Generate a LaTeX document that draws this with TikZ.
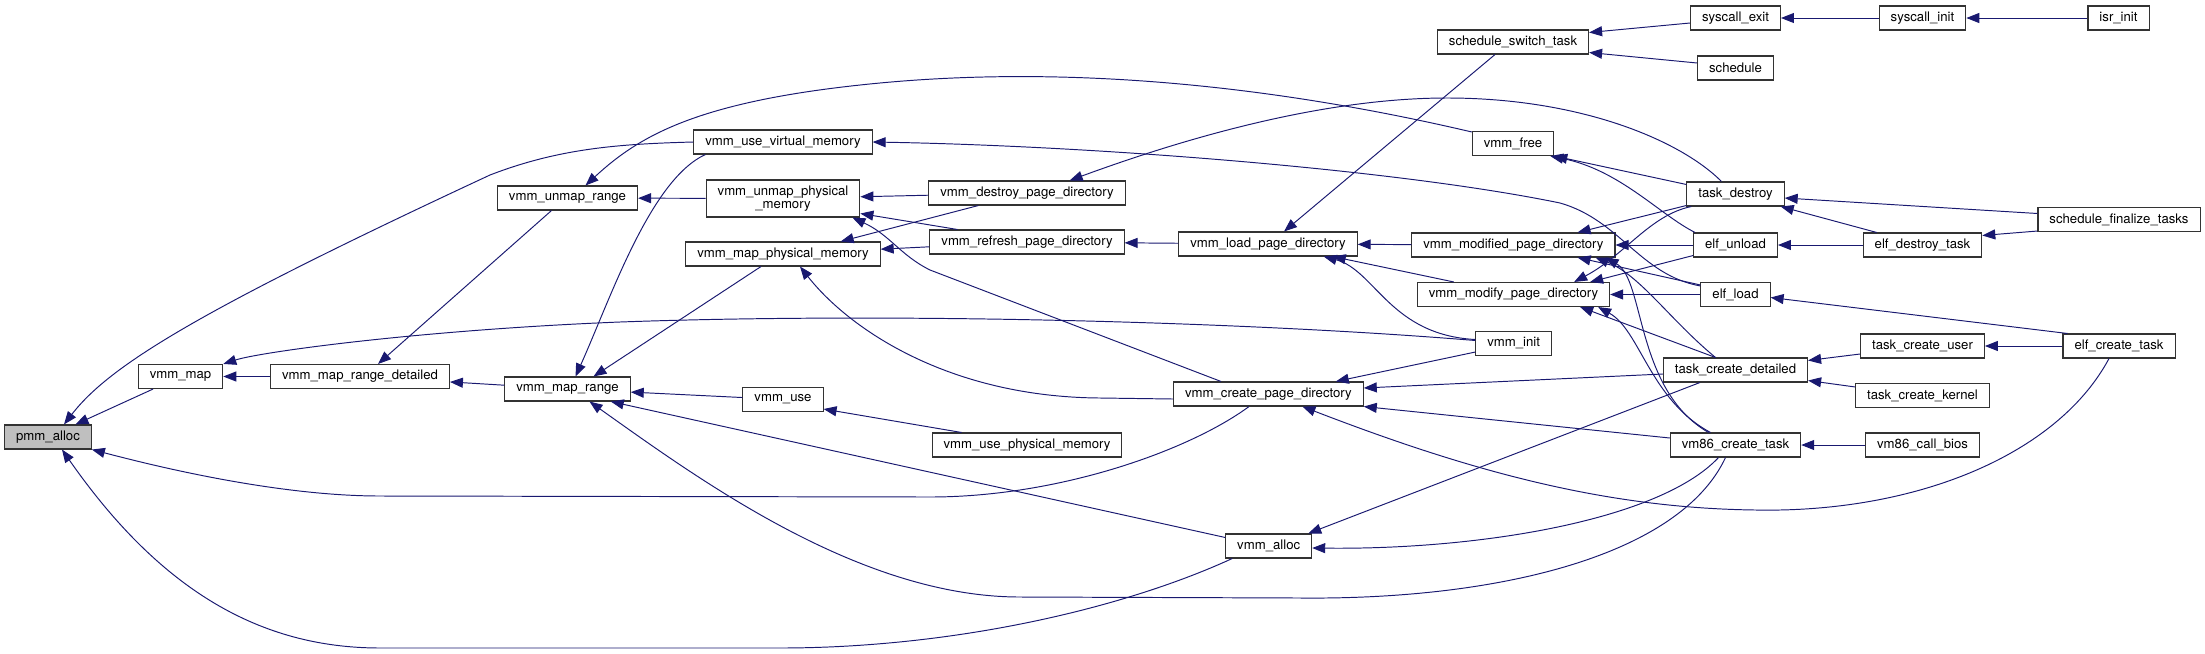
\documentclass[tikz,border=0pt]{standalone}
\usepackage{fontspec}
\setmainfont{TeX Gyre Heros}
\usetikzlibrary{arrows.meta, calc}
\definecolor{edgeblue}{RGB}{25,25,112}
\definecolor{focusgray}{RGB}{191,191,191}
\newcommand{\fnfont}{\fontsize{7.5}{7.6}\selectfont}
\tikzset{
  func/.style={rectangle, draw=black!80, fill=white, line width=0.6pt, font=\fnfont, inner xsep=0.23cm, inner ysep=0pt, minimum height=0.48cm},
  focus/.style={func, fill=focusgray},
  call/.style={draw=edgeblue, line width=0.55pt, {Triangle[length=0.26cm, width=0.2cm]}-}
}
\begin{document}
\begin{tikzpicture}[x=0.02cm, y=-0.02cm]
  \useasboundingbox (0,0) rectangle (2205,653);

  % Funcion de partida
  \node (pmm) [focus] at (48,437) {pmm\_alloc};

  % Primeras capas
  \node (map) [func] at (180.5,376.5) {vmm\_map};
  \node (mapdet) [func] at (360,376.5) {vmm\_map\_range\_detailed};
  \node (maprange) [func] at (567.5,389) {vmm\_map\_range};
  \node (unmaprange) [func] at (567.5,198) {vmm\_unmap\_range};
  \node (usevirt) [func] at (783,142) {vmm\_use\_virtual\_memory};
  \node (unmapphys) [func, align=center, minimum height=0.74cm] at (783,198.5) {vmm\_unmap\_physical\\\_memory};
  \node (mapphys) [func] at (783,254) {vmm\_map\_physical\_memory};
  \node (use) [func] at (783,399.5) {vmm\_use};
  \node (usephys) [func] at (1027,445) {vmm\_use\_physical\_memory};
  \node (destroypd) [func] at (1027,193) {vmm\_destroy\_page\_directory};
  \node (refreshpd) [func] at (1027,242) {vmm\_refresh\_page\_directory};
  \node (loadpd) [func] at (1268,244) {vmm\_load\_page\_directory};
  \node (createpd) [func] at (1268.4,394) {vmm\_create\_page\_directory};
  \node (valloc) [func] at (1268.7,546) {vmm\_alloc};

  % Capas intermedias
  \node (vinit) [func] at (1513.7,343.5) {vmm\_init};
  \node (switchtask) [func] at (1513,42) {schedule\_switch\_task};
  \node (vfree) [func] at (1513,143.5) {vmm\_free};
  \node (modifiedpd) [func] at (1513.4,245) {vmm\_modified\_page\_directory};
  \node (modifypd) [func] at (1513.5,294.5) {vmm\_modify\_page\_directory};
  \node (sysexit) [func] at (1735.5,18) {syscall\_exit};
  \node (sched) [func] at (1735.5,68) {schedule};
  \node (taskdestroy) [func] at (1735.5,194) {task\_destroy};
  \node (elfunload) [func] at (1735.5,245) {elf\_unload};
  \node (elfload) [func] at (1735.5,294.5) {elf\_load};
  \node (tcdetailed) [func] at (1735.5,370) {task\_create\_detailed};
  \node (vm86task) [func] at (1735.5,445) {vm86\_create\_task};

  % Ultimas capas
  \node (sysinit) [func] at (1922.5,18) {syscall\_init};
  \node (elfdestroy) [func] at (1922.5,245) {elf\_destroy\_task};
  \node (tcuser) [func] at (1922.5,346) {task\_create\_user};
  \node (tckernel) [func] at (1922.5,395.5) {task\_create\_kernel};
  \node (vm86bios) [func] at (1922.5,445) {vm86\_call\_bios};
  \node (isrinit) [func] at (2118.5,18) {isr\_init};
  \node (finalize) [func] at (2119,219.5) {schedule\_finalize\_tasks};
  \node (elfcreate) [func] at (2119,346) {elf\_create\_task};

  % Llamadas a pmm_alloc
  \draw [call] (pmm) -- (map);
  \draw [call] ($(pmm.north)+(16,0)$) .. controls (110,365) and (200,310) .. (490,175) .. controls (560,148) and (620,144) .. (usevirt.west);
  \draw [call] (pmm.south east) .. controls (200,478) and (300,496) .. (380,496) -- (930,497) .. controls (1060,497) and (1190,450) .. ($(createpd.south west)+(76,0)$);
  \draw [call] ($(pmm.south)+(14,0)$) .. controls (160,590) and (260,648) .. (380,648) -- (780,648) .. controls (950,648) and (1120,610) .. ($(valloc.south west)+(7,0)$);

  % vmm_map y rangos
  \draw [call] (map) -- (mapdet);
  \draw [call] (map.north east) .. controls (260,352) and (420,330) .. (620,322) .. controls (900,312) and (1250,322) .. ($(vinit.west)+(0,-3)$);
  \draw [call] ($(mapdet.north)+(18,0)$) -- ($(unmaprange.south)+(-16,0)$);
  \draw [call] (mapdet) -- (maprange);
  \draw [call] (unmaprange) -- (unmapphys);
  \draw [call] ($(unmaprange.north)+(18,0)$) .. controls (640,135) and (700,100) .. (880,83) .. controls (1050,67) and (1250,80) .. ($(vfree.north west)+(0,1)$);
  \draw [call] ($(maprange.north)+(8,0)$) .. controls (610,300) and (650,180) .. ($(usevirt.south west)+(12,0)$);
  \draw [call] ($(maprange.north)+(26,0)$) -- ($(mapphys.south)+(-22,0)$);
  \draw [call] (maprange) -- (use);
  \draw [call] ($(maprange.south east)+(-20,0)$) -- ($(valloc.north west)+(0,4)$);
  \draw [call] ($(maprange.south)+(22,0)$) .. controls (700,480) and (860,597) .. (1020,597) -- (1300,598) .. controls (1500,600) and (1680,555) .. ($(vm86task.south)+(-10,0)$);
  \draw [call] ($(use.south east)+(0,-3)$) -- ($(usephys.north west)+(30,0)$);

  % Memoria fisica
  \draw [call] (mapphys) -- (refreshpd);
  \draw [call] ($(mapphys.north east)+(-40,0)$) -- ($(destroypd.south west)+(50,0)$);
  \draw [call] ($(mapphys.south)+(17,0)$) .. controls (850,330) and (950,397) .. (1100,398) -- ($(createpd.west)+(0,5)$);
  \draw [call] (unmapphys) -- (destroypd);
  \draw [call] ($(unmapphys.south east)+(0,-4)$) -- ($(refreshpd.north west)+(28,0)$);
  \draw [call] ($(unmapphys.south east)+(-8,0)$) .. controls (890,235) and (900,255) .. (930,270) -- ($(createpd.north west)+(48,0)$);
  \draw [call] (usevirt.east) .. controls (1100,146) and (1400,170) .. (1560,203) .. controls (1620,220) and (1640,275) .. ($(elfload.north west)+(0,4)$);

  % Directorios de paginas
  \draw [call] ($(destroypd.north east)+(-56,0)$) .. controls (1180,140) and (1320,98) .. (1447,98) .. controls (1580,98) and (1680,140) .. ($(taskdestroy.north)+(-14,0)$);
  \draw [call] (refreshpd) -- (loadpd);
  \draw [call] ($(loadpd.north)+(16,0)$) -- ($(switchtask.south)+(-18,0)$);
  \draw [call] (loadpd) -- (modifiedpd);
  \draw [call] ($(loadpd.south east)+(-25,0)$) -- ($(modifypd.north west)+(37,0)$);
  \draw [call] ($(loadpd.south east)+(-34,0)$) .. controls (1375,270) and (1390,335) .. ($(vinit.west)+(0,-4)$);
  \draw [call] ($(createpd.north east)+(-28,0)$) -- ($(vinit.south west)+(0,-4)$);
  \draw [call] ($(createpd.east)+(0,-6)$) -- ($(tcdetailed.west)+(0,4)$);
  \draw [call] (createpd.south east) -- ($(vm86task.west)+(0,-7)$);
  \draw [call] ($(createpd.south)+(34,0)$) .. controls (1480,475) and (1620,512) .. (1780,510) .. controls (1930,507) and (2060,450) .. ($(elfcreate.south)+(-10,0)$);
  \draw [call] ($(valloc.north east)+(-4,0)$) -- ($(tcdetailed.south west)+(37,0)$);
  \draw [call] ($(valloc.east)+(0,2)$) .. controls (1480,550) and (1660,520) .. ($(vm86task.south)+(-17,0)$);

  % Planificador
  \draw [call] ($(switchtask.north east)+(0,3)$) -- ($(sysexit.west)+(0,5)$);
  \draw [call] ($(switchtask.south east)+(0,-2)$) -- ($(sched.west)+(0,-5)$);
  \draw [call] (sysexit) -- (sysinit);
  \draw [call] (sysinit) -- (isrinit);

  % Tareas y ELF
  \draw [call] (vfree.south east) -- ($(taskdestroy.north west)+(0,3)$);
  \draw [call] ($(vfree.south east)+(-4,0)$) .. controls (1620,170) and (1660,215) .. ($(elfunload.north west)+(2,0)$);
  \draw [call] (modifiedpd) -- (elfunload);
  \draw [call] ($(modifiedpd.north east)+(-38,0)$) -- ($(taskdestroy.south west)+(0,-1)$);
  \draw [call] ($(modifiedpd.south east)+(-38,0)$) -- ($(elfload.north west)+(0,3)$);
  \draw [call] ($(modifiedpd.south east)+(-20,0)$) .. controls (1640,275) and (1670,320) .. ($(tcdetailed.north)+(-20,0)$);
  \draw [call] ($(modifiedpd.south east)+(-10,0)$) .. controls (1645,280) and (1635,390) .. ($(vm86task.north)+(-27,0)$);
  \draw [call] (modifypd) -- (elfload);
  \draw [call] ($(modifypd.north east)+(-36,0)$) .. controls (1625,255) and (1650,215) .. ($(taskdestroy.south west)+(5,0)$);
  \draw [call] ($(modifypd.north east)+(-20,0)$) -- ($(elfunload.south west)+(0,-2)$);
  \draw [call] ($(modifypd.south east)+(-30,0)$) -- ($(tcdetailed.north)+(-20,0)$);
  \draw [call] ($(modifypd.south east)+(-12,0)$) .. controls (1640,330) and (1650,400) .. ($(vm86task.north)+(-25,0)$);
  \draw [call] ($(taskdestroy.east)+(0,4)$) -- ($(finalize.west)+(0,-6)$);
  \draw [call] ($(taskdestroy.south east)+(-4,0)$) -- ($(elfdestroy.north west)+(14,0)$);
  \draw [call] (elfunload) -- (elfdestroy);
  \draw [call] ($(elfdestroy.north east)+(0,3)$) -- ($(finalize.south west)+(0,-1)$);
  \draw [call] ($(elfload.east)+(0,3)$) -- ($(elfcreate.north west)+(5,0)$);
  \draw [call] ($(tcdetailed.north east)+(0,3)$) -- ($(tcuser.west)+(0,8)$);
  \draw [call] ($(tcdetailed.south east)+(0,-2)$) -- ($(tckernel.north west)+(0,4)$);
  \draw [call] (tcuser) -- (elfcreate);
  \draw [call] (vm86task) -- (vm86bios);

\end{tikzpicture}
\end{document}
